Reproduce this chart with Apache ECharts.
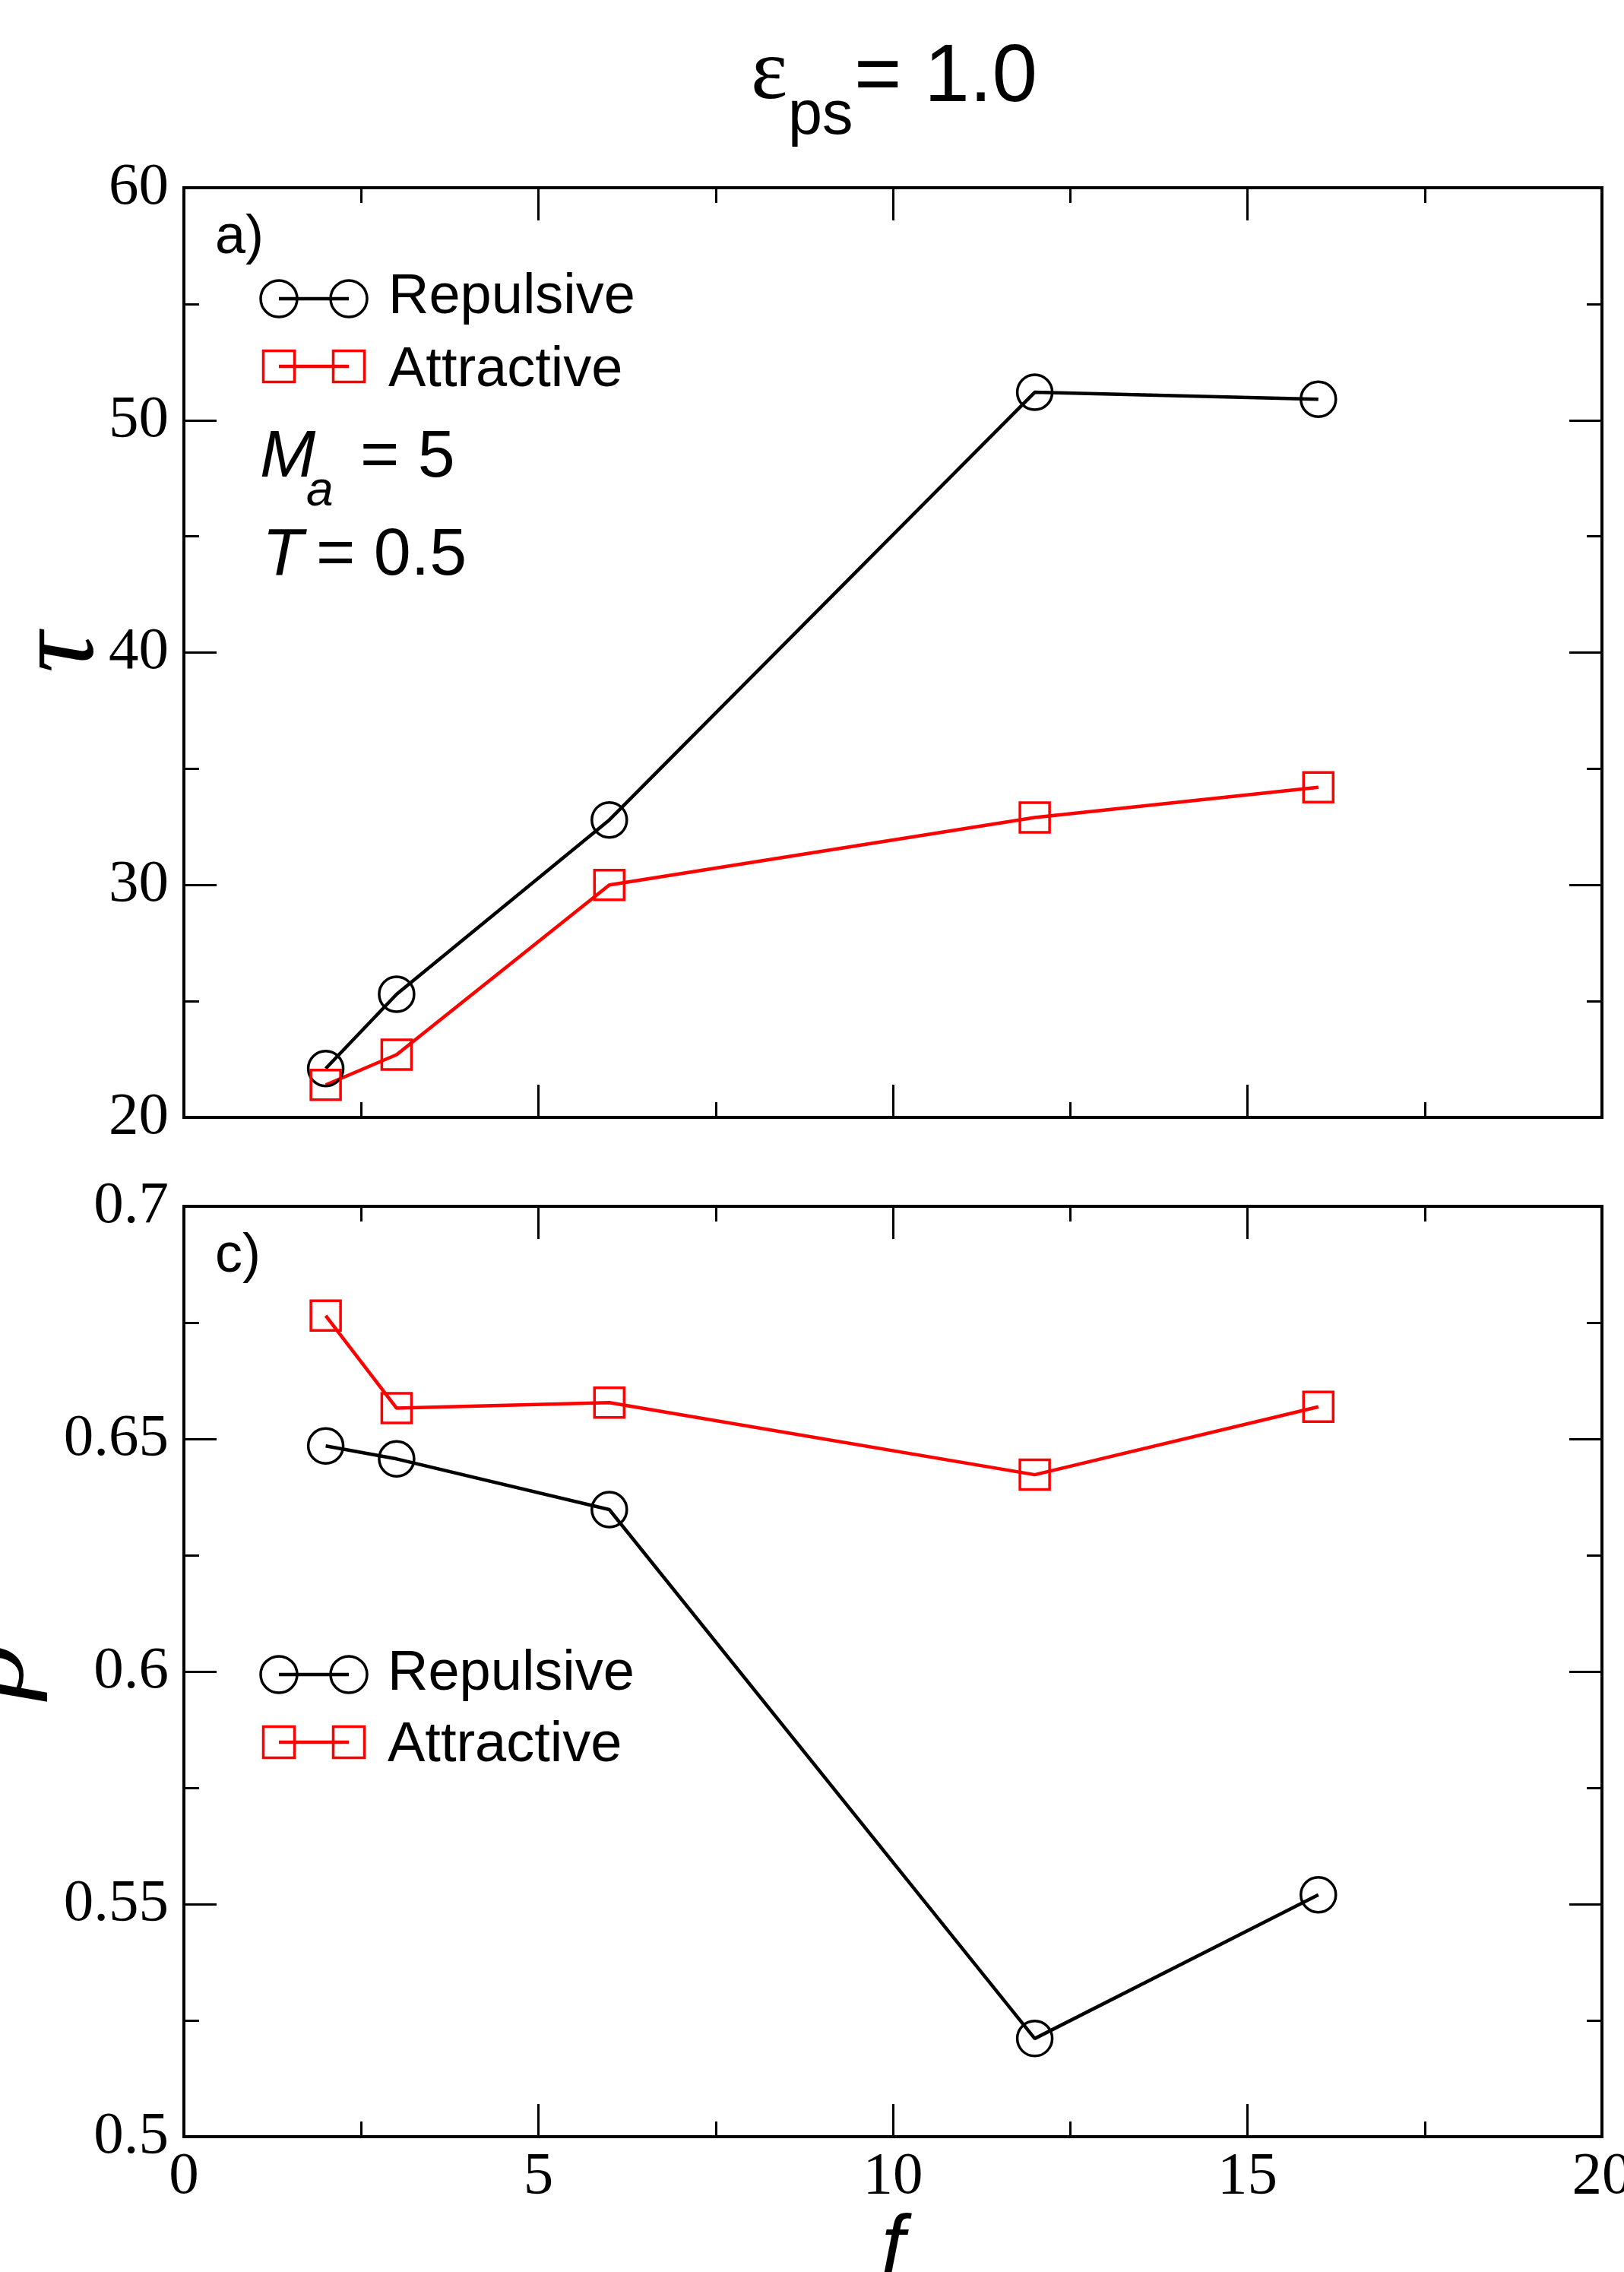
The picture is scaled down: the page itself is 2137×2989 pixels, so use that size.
<!DOCTYPE html>
<html>
<head>
<meta charset="utf-8">
<script src="https://cdn.jsdelivr.net/npm/echarts@6/dist/echarts.min.js"></script>
<style>
  html, body { margin: 0; padding: 0; background: #fff; }
  #chart { width: 2137px; height: 2989px; }
</style>
</head>
<body>
<div id="chart"></div>
<script>
// data
const fValues = [2, 3, 6, 12, 16];
const tauRepulsive = [22.1, 25.3, 32.8, 51.2, 50.9];
const tauAttractive = [21.4, 22.7, 30.0, 32.9, 34.2];
const rhoRepulsive = [0.6485, 0.6457, 0.6348, 0.5211, 0.552];
const rhoAttractive = [0.6765, 0.6566, 0.6578, 0.6423, 0.6569];

const xRange = [0, 20, 5];
const tauRange = [20, 60, 10];
const rhoRange = [0.5, 0.7, 0.05];

const chart = echarts.init(document.getElementById("chart"));

const serif = "Liberation Serif";
const sans = "Liberation Sans";

// one axis of the frame, ticks inside, labels only where asked
function frameAxis(kind, grid, pos, range, showLabel) {
  return {
    type: "value",
    gridIndex: grid,
    position: pos,
    min: range[0],
    max: range[1],
    interval: range[2],
    axisLine: { show: true, onZero: false, lineStyle: { color: "#000", width: 4, cap: "square" } },
    axisTick: { show: true, inside: true, length: 43, lineStyle: { color: "#000", width: 3 } },
    minorTick: { show: true, splitNumber: 2, length: 20, lineStyle: { color: "#000", width: 3 } },
    splitLine: { show: false },
    axisLabel: {
      show: showLabel,
      color: "#000",
      fontFamily: serif,
      fontSize: 79,
      margin: kind === "x" ? 14 : 20,
      showMinLabel: true,
      showMaxLabel: true,
      hideOverlap: false
    }
  };
}

const xAxes = [
  frameAxis("x", 0, "bottom", xRange, false),
  frameAxis("x", 0, "top", xRange, false),
  Object.assign(frameAxis("x", 1, "bottom", xRange, true), {
    name: "f",
    nameLocation: "middle",
    nameGap: 89,
    nameTextStyle: { fontFamily: sans, fontStyle: "italic", fontSize: 110, color: "#000" }
  }),
  frameAxis("x", 1, "top", xRange, false)
];

const yAxes = [
  Object.assign(frameAxis("y", 0, "left", tauRange, true), {
    name: "τ",
    nameLocation: "middle",
    nameRotate: 90,
    nameGap: 84,
    nameMoveOverlap: false,
    nameTextStyle: { fontFamily: serif, fontStyle: "italic", fontSize: 150, color: "#000" }
  }),
  frameAxis("y", 0, "right", tauRange, false),
  Object.assign(frameAxis("y", 1, "left", rhoRange, true), {
    name: "ρ",
    nameLocation: "middle",
    nameRotate: 90,
    nameGap: 176,
    nameMoveOverlap: false,
    nameTextStyle: { fontFamily: serif, fontStyle: "italic", fontSize: 150, color: "#000" }
  }),
  frameAxis("y", 1, "right", rhoRange, false)
];

function lineSeries(name, xs, ys, axis, color, symbol, size) {
  return {
    name: name,
    type: "line",
    xAxisIndex: axis,
    yAxisIndex: axis,
    data: xs.map((x, i) => [x, ys[i]]),
    symbol: symbol,
    symbolSize: size,
    showAllSymbol: true,
    lineStyle: { color: color, width: 4.5 },
    itemStyle: { color: "rgba(0,0,0,0)", borderColor: color, borderWidth: 3.5 },
    emphasis: { disabled: true },
    animation: false
  };
}

// legend drawn by hand: marker - line - marker, then the name
function legendRow(x, y, textY, color, symbol, label) {
  const items = [];
  const xs = [367, 459];
  xs.forEach((cx) => {
    if (symbol === "circle") {
      items.push({ type: "circle", shape: { cx: cx, cy: y, r: 24 }, style: { fill: "none", stroke: color, lineWidth: 3.5 } });
    } else {
      items.push({ type: "rect", shape: { x: cx - 20.5, y: y - 20.5, width: 41, height: 41 }, style: { fill: "none", stroke: color, lineWidth: 3.5 } });
    }
  });
  items.push({ type: "line", shape: { x1: xs[0], y1: y, x2: xs[1], y2: y }, style: { stroke: color, lineWidth: 4.5 } });
  items.push({ type: "text", x: x, y: textY, style: { text: label, fontFamily: sans, fontSize: 74, fill: "#000", align: "left", verticalAlign: "middle" } });
  return items;
}

function txt(x, y, text, size, family, style) {
  return {
    type: "text", x: x, y: y,
    style: { text: text, fontFamily: family || sans, fontSize: size, fontStyle: style || "normal", fill: "#000", align: "left", verticalAlign: "middle" }
  };
}

const graphics = [].concat(
  // title  ε_ps = 1.0
  [txt(988, 99, "ε", 115, serif), txt(1037, 154, "ps", 81), txt(1124, 103, "= 1.0", 107)],
  // panel tags
  [txt(283, 313, "a)", 72), txt(283, 1653, "c)", 72)],
  // parameters
  [txt(342, 603, "M", 88, sans, "italic"), txt(403, 647, "a", 64, sans, "italic"), txt(474, 603, "= 5", 88),
   txt(345, 732, "T", 88, sans, "italic"), txt(416, 732, "= 0.5", 88)],
  legendRow(511, 393, 392, "#000", "circle", "Repulsive"),
  legendRow(511, 482, 488, "#ff0000", "rect", "Attractive"),
  legendRow(510, 2203, 2203, "#000", "circle", "Repulsive"),
  legendRow(510, 2292, 2297, "#ff0000", "rect", "Attractive")
);

const option = {
  backgroundColor: "#fff",
  animation: false,
  grid: [
    { left: 242, top: 247, width: 1866, height: 1223, outerBoundsMode: "none" },
    { left: 242, top: 1587, width: 1866, height: 1224, outerBoundsMode: "none" }
  ],
  xAxis: xAxes,
  yAxis: yAxes,
  series: [
    lineSeries("Repulsive", fValues, tauRepulsive, 0, "#000", "circle", 46),
    lineSeries("Attractive", fValues, tauAttractive, 0, "#ff0000", "rect", 39),
    lineSeries("Repulsive", fValues, rhoRepulsive, 2, "#000", "circle", 46),
    lineSeries("Attractive", fValues, rhoAttractive, 2, "#ff0000", "rect", 39)
  ],
  graphic: graphics.map((g) => Object.assign({ z: 100 }, g))
};

chart.setOption(option);
</script>
</body>
</html>
